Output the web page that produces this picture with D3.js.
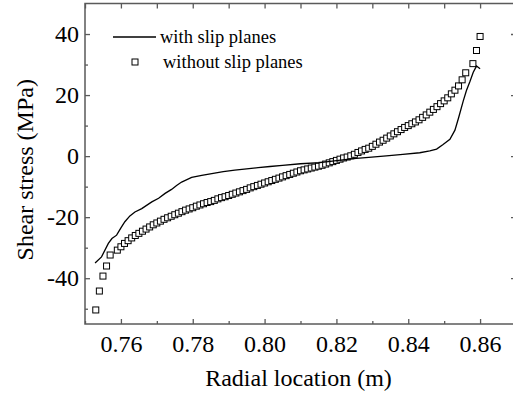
<!DOCTYPE html>
<html>
<head>
<meta charset="utf-8">
<script src="https://cdn.jsdelivr.net/npm/d3@7"></script>
<style>
  body { margin: 0; background: #fff; }
  svg { display: block; font-family: "Liberation Serif", "Times New Roman", serif; }
</style>
</head>
<body>
<div id="chart"></div>
<script>
// "with slip planes" (solid line)
const slipX = [0.7528, 0.7546, 0.7565, 0.7575, 0.7588, 0.7600, 0.7611, 0.7625, 0.7639, 0.7658,
    0.7686, 0.7705, 0.7723, 0.7741, 0.7755, 0.7769, 0.7797, 0.7825, 0.7853, 0.7885,
    0.7917, 0.7950, 0.7982, 0.8015, 0.8050, 0.8100, 0.8154, 0.8200, 0.8247, 0.8290,
    0.8339, 0.8385, 0.8432, 0.8460, 0.8479, 0.8497, 0.8516, 0.8530, 0.8540, 0.8553,
    0.8562, 0.8572, 0.8581, 0.8590, 0.8600];
const slipY = [-35.0, -33.0, -28.6, -27.0, -25.9, -23.5, -21.5, -19.6, -18.3, -17.2,
    -15.0, -13.8, -12.2, -10.9, -9.6, -8.5, -7.0, -6.3, -5.7, -5.1,
    -4.6, -4.2, -3.8, -3.4, -3.0, -2.5, -2.1, -1.5, -0.8, -0.4,
    0.1, 0.6, 1.1, 1.7, 2.3, 3.8, 5.5, 8.5, 12.5, 18.0,
    21.5, 24.5, 27.5, 29.5, 28.6];

// "without slip planes" (open squares)
const noSlipX = [0.753, 0.754, 0.755, 0.756, 0.757, 0.759, 0.760, 0.761, 0.762, 0.763,
    0.764, 0.765, 0.766, 0.767, 0.768, 0.769, 0.770, 0.771, 0.772, 0.773,
    0.774, 0.775, 0.776, 0.777, 0.778, 0.779, 0.780, 0.781, 0.782, 0.783,
    0.784, 0.785, 0.786, 0.787, 0.788, 0.789, 0.790, 0.791, 0.792, 0.793,
    0.794, 0.795, 0.796, 0.797, 0.798, 0.799, 0.800, 0.801, 0.802, 0.803,
    0.804, 0.805, 0.806, 0.807, 0.808, 0.809, 0.810, 0.811, 0.812, 0.813,
    0.814, 0.815, 0.816, 0.817, 0.818, 0.819, 0.820, 0.821, 0.822, 0.823,
    0.824, 0.825, 0.826, 0.827, 0.828, 0.829, 0.830, 0.831, 0.832, 0.833,
    0.834, 0.835, 0.836, 0.837, 0.838, 0.839, 0.840, 0.841, 0.842, 0.843,
    0.844, 0.845, 0.846, 0.847, 0.848, 0.849, 0.850, 0.851, 0.852, 0.853,
    0.854, 0.855, 0.856, 0.858, 0.859, 0.860];
const noSlipY = [-50.4, -44.2, -39.3, -36.0, -32.4, -30.8, -29.7, -28.6, -27.7, -26.8,
    -26.0, -25.3, -24.6, -23.9, -23.2, -22.5, -21.9, -21.3, -20.7, -20.2,
    -19.7, -19.2, -18.7, -18.2, -17.7, -17.3, -16.9, -16.4, -16.0, -15.6,
    -15.2, -14.9, -14.5, -14.0, -13.6, -13.3, -12.9, -12.5, -12.1, -11.7,
    -11.3, -10.9, -10.4, -10.0, -9.6, -9.2, -8.8, -8.4, -8.0, -7.6,
    -7.2, -6.8, -6.4, -6.0, -5.6, -5.2, -4.8, -4.5, -4.2, -3.9,
    -3.6, -3.3, -3.0, -2.6, -2.2, -1.8, -1.4, -1.0, -0.6, -0.3,
    0.1, 0.6, 1.2, 1.7, 2.2, 2.6, 3.2, 3.9, 4.6, 5.2,
    5.9, 6.6, 7.3, 8.0, 8.7, 9.4, 10.0, 10.6, 11.2, 11.9,
    12.7, 13.5, 14.4, 15.3, 16.2, 17.2, 18.1, 19.1, 20.4, 21.6,
    23.0, 25.0, 27.3, 30.3, 34.6, 39.2];

const xMajor = [0.76, 0.78, 0.80, 0.82, 0.84, 0.86];
const xMinor = [0.75, 0.77, 0.79, 0.81, 0.83, 0.85, 0.87];
const yMajor = [-40, -20, 0, 20, 40];
const yMinor = [-50, -30, -10, 10, 30];
const seriesNames = ["with slip planes", "without slip planes"];

const width = 513, height = 395;
const plotLeft = 85, plotRight = 516, plotTop = 3.5, plotBottom = 324;
const axisColor = "#5a5a5a";

const svg = d3.select("#chart").append("svg")
    .attr("width", width)
    .attr("height", height);

const x = d3.scaleLinear().domain([0.75, 0.87]).range([plotLeft, plotRight]);
const y = d3.scaleLinear().domain([-55, 50]).range([plotBottom, plotTop]);

// axes with inward ticks
function styleAxis(g) {
    g.select(".domain").remove();
    g.selectAll(".tick line").attr("stroke", axisColor).attr("stroke-width", 1.3);
    g.selectAll(".tick text").attr("fill", "#000").style("font-size", "24px")
        .style("font-family", "Liberation Serif, serif");
}

svg.append("g").attr("transform", `translate(0,${plotBottom})`)
    .call(d3.axisBottom(x).tickValues(xMajor).tickSize(-5).tickPadding(11).tickFormat(d3.format(".2f")))
    .call(styleAxis);
svg.append("g").attr("transform", `translate(0,${plotBottom})`)
    .call(d3.axisBottom(x).tickValues(xMinor).tickSize(-3).tickFormat(""))
    .call(styleAxis);
svg.append("g").attr("transform", `translate(0,${plotTop})`)
    .call(d3.axisTop(x).tickValues(xMajor.concat(xMinor)).tickSize(-5).tickFormat(""))
    .call(styleAxis);

svg.append("g").attr("transform", `translate(${plotLeft},0)`)
    .call(d3.axisLeft(y).tickValues(yMajor).tickSize(-5).tickPadding(6).tickFormat(d => d < 0 ? "-" + Math.abs(d) : d))
    .call(styleAxis);
svg.append("g").attr("transform", `translate(${plotLeft},0)`)
    .call(d3.axisLeft(y).tickValues(yMinor).tickSize(-3).tickFormat(""))
    .call(styleAxis);
svg.append("g").attr("transform", `translate(${plotRight},0)`)
    .call(d3.axisRight(y).tickValues(yMajor).tickSize(-5).tickFormat(""))
    .call(styleAxis);
svg.append("g").attr("transform", `translate(${plotRight},0)`)
    .call(d3.axisRight(y).tickValues(yMinor).tickSize(-3).tickFormat(""))
    .call(styleAxis);

// frame
svg.append("rect")
    .attr("x", plotLeft).attr("y", plotTop)
    .attr("width", plotRight - plotLeft).attr("height", plotBottom - plotTop)
    .attr("fill", "none").attr("stroke", axisColor).attr("stroke-width", 1.5);

// squares series
const sq = 6;
svg.append("g").selectAll("rect")
    .data(noSlipX.map((d, i) => [d, noSlipY[i]]))
    .enter().append("rect")
    .attr("x", d => x(d[0]) - sq / 2)
    .attr("y", d => y(d[1]) - sq / 2)
    .attr("width", sq).attr("height", sq)
    .attr("fill", "#fff").attr("stroke", "#000").attr("stroke-width", 1);

// line series
const line = d3.line().x(d => x(d[0])).y(d => y(d[1]));
svg.append("path")
    .datum(slipX.map((d, i) => [d, slipY[i]]))
    .attr("d", line)
    .attr("fill", "none").attr("stroke", "#000").attr("stroke-width", 1.3);

// legend
const legend = svg.append("g").style("font-size", "18.5px");
legend.append("line")
    .attr("x1", 113).attr("x2", 156).attr("y1", 37).attr("y2", 37)
    .attr("stroke", "#000").attr("stroke-width", 1.3);
legend.append("text").attr("x", 160).attr("y", 43).text(seriesNames[0]);
legend.append("rect")
    .attr("x", 132).attr("y", 59).attr("width", sq).attr("height", sq)
    .attr("fill", "#fff").attr("stroke", "#000").attr("stroke-width", 1);
legend.append("text").attr("x", 163).attr("y", 68).text(seriesNames[1]);

// axis titles
svg.append("text")
    .attr("x", (plotLeft + plotRight) / 2 - 2).attr("y", 386)
    .attr("text-anchor", "middle")
    .style("font-size", "24px")
    .text("Radial location (m)");

svg.append("text")
    .attr("transform", `translate(33,${(plotTop + plotBottom) / 2 + 6}) rotate(-90)`)
    .attr("text-anchor", "middle")
    .style("font-size", "24px")
    .text("Shear stress (MPa)");
</script>
</body>
</html>
